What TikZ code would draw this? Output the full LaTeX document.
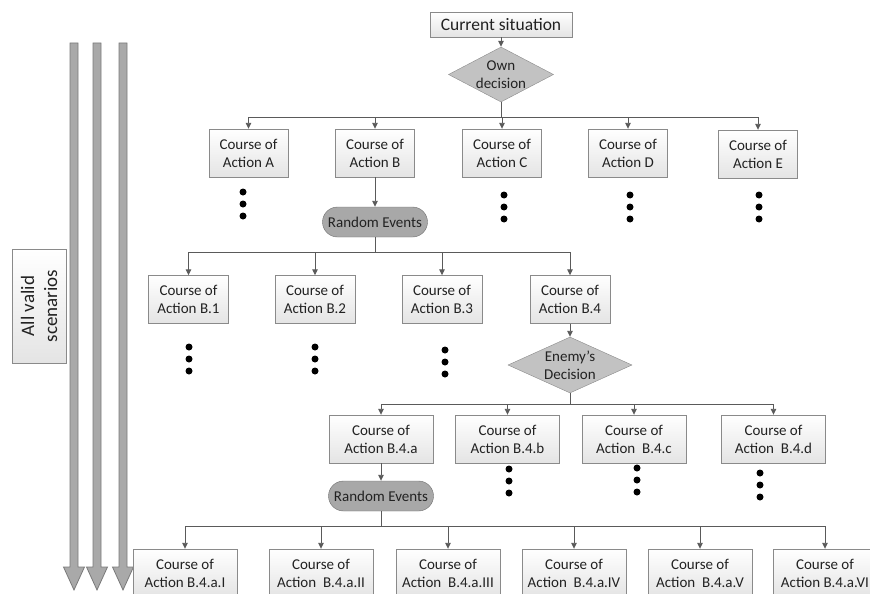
\documentclass[tikz,border=0pt]{standalone}
\usepackage{fontspec}
\setmainfont{Carlito}
\usetikzlibrary{arrows.meta,shapes.geometric}
\definecolor{boxline}{HTML}{8A8A8A}
\definecolor{boxbot}{HTML}{E4E4E4}
\definecolor{wire}{HTML}{5A5A5A}
\definecolor{decfill}{HTML}{C2C2C2}
\definecolor{evfill}{HTML}{A8A8A8}
\definecolor{evline}{HTML}{6E6E6E}
\definecolor{shaftfill}{HTML}{A9A9A9}
\definecolor{shaftline}{HTML}{7A7A7A}
\definecolor{ink}{HTML}{222222}
\newcommand\coafont{\fontsize{15}{18}\selectfont}
\tikzset{
  coa/.style={rectangle, draw=boxline, top color=white, bottom color=boxbot,
    minimum height=48pt, inner sep=0pt, align=center, font=\coafont, text=ink},
  decision/.style={diamond, draw=boxline, fill=decfill, inner xsep=0pt, inner ysep=-6pt,
    aspect=1.9, align=center, font=\coafont, text=ink},
  events/.style={rectangle, rounded corners=15pt, draw=evline, fill=evfill,
    minimum width=105pt, minimum height=30pt, inner sep=0pt, font=\coafont, text=ink},
  wireline/.style={draw=wire, line width=0.9pt},
  feed/.style={wireline, -{Triangle[length=6pt,width=5.5pt]}},
  bigshaft/.style={fill=shaftfill, draw=shaftline, line width=0.8pt, line join=miter},
  dot/.style={fill=black}
}
\begin{document}
\begin{tikzpicture}[x=1pt,y=-1pt]
\useasboundingbox (0,0) rectangle (870,594);
\clip (0,0) rectangle (870,594);

% three downward scenario arrows
\foreach \cx in {74,97,123}{
  \filldraw[bigshaft] (\cx-4,43) -- (\cx+4,43) -- (\cx+4,567) -- (\cx+10.5,567)
    -- (\cx,590) -- (\cx-10.5,567) -- (\cx-4,567) -- cycle;
}
\node[rectangle, draw=boxline, top color=white, bottom color=boxbot, rotate=90,
      minimum width=114pt, minimum height=54pt, inner sep=0pt, align=center,
      font=\fontsize{19}{23}\selectfont, text=ink] (valid) at (39,306) {All valid\\scenarios};

% root and first decision
\node[coa, minimum width=142pt, minimum height=25pt, font=\fontsize{17.5}{20}\selectfont] (cs) at (501,24.5) {Current situation};
\node[decision, minimum width=105pt, minimum height=55pt] (own) at (501,74.5) {Own\\decision};
\draw[feed] (cs.south) -- (own.north);

% level 1
\node[coa, minimum width=79pt] (ca) at (248.5,153) {Course of\\Action A};
\node[coa, minimum width=79pt] (cb) at (375,153) {Course of\\Action B};
\node[coa, minimum width=79pt] (cc) at (502,153) {Course of\\Action C};
\node[coa, minimum width=79pt] (cd) at (628,153) {Course of\\Action D};
\node[coa, minimum width=79pt] (ce) at (758,154) {Course of\\Action E};
\coordinate (bus1) at (501,117);
\draw[wireline] (own.south) -- (bus1);
\foreach \n in {ca,cb,cc,cd,ce}{ \draw[feed] (bus1) -| (\n.north); }

% random events after B
\node[events] (ev1) at (375,222) {Random Events};
\draw[feed] (cb.south) -- (ev1.north);

% level 2
\node[coa, minimum width=80pt] (b1) at (188.5,299.5) {Course of\\Action B.1};
\node[coa, minimum width=80pt] (b2) at (315,299.5) {Course of\\Action B.2};
\node[coa, minimum width=80pt] (b3) at (442,299.5) {Course of\\Action B.3};
\node[coa, minimum width=80pt] (b4) at (570,299.5) {Course of\\Action B.4};
\coordinate (bus2) at (375,252);
\draw[wireline] (ev1.south) -- (bus2);
\foreach \n in {b1,b2,b3,b4}{ \draw[feed] (bus2) -| (\n.north); }

% enemy decision after B.4
\node[decision, minimum width=124pt, minimum height=56pt] (enemy) at (570,365) {Enemy's\\Decision};
\draw[feed] (b4.south) -- (enemy.north);

% level 3
\node[coa, minimum width=104pt] (b4a) at (381,439) {Course of\\Action B.4.a};
\node[coa, minimum width=104pt] (b4b) at (507.5,439) {Course of\\Action B.4.b};
\node[coa, minimum width=104pt] (b4c) at (634,439) {Course of\\Action~~B.4.c};
\node[coa, minimum width=104pt] (b4d) at (773.5,439) {Course of\\Action~~B.4.d};
\coordinate (bus3) at (570,404);
\draw[wireline] (enemy.south) -- (bus3);
\foreach \n in {b4a,b4b,b4c,b4d}{ \draw[feed] (bus3) -| (\n.north); }

% random events after B.4.a
\node[events] (ev2) at (381,496) {Random Events};
\draw[feed] (b4a.south) -- (ev2.north);

% level 4
\node[coa, minimum width=104pt] (r1) at (185,573) {Course of\\Action B.4.a.I};
\node[coa, minimum width=104pt] (r2) at (321,573) {Course of\\Action~~B.4.a.II};
\node[coa, minimum width=104pt] (r3) at (448,573) {Course of\\Action~~B.4.a.III};
\node[coa, minimum width=104pt] (r4) at (574,573) {Course of\\Action~~B.4.a.IV};
\node[coa, minimum width=104pt] (r5) at (700,573) {Course of\\Action~~B.4.a.V};
\node[coa, minimum width=104pt] (r6) at (825,573) {Course of\\Action B.4.a.VI};
\coordinate (bus4) at (381,526);
\draw[wireline] (ev2.south) -- (bus4);
\foreach \n in {r1,r2,r3,r4,r5,r6}{ \draw[feed] (bus4) -| (\n.north); }

% continuation dots
\foreach \x/\y in {243/192, 504/195, 630/195, 759/195,
                   189/347, 315/347, 445/350,
                   509/469, 637/468, 760/473}{
  \foreach \k in {0,1,2}{ \fill[dot] (\x,\y+12*\k) circle (3.5pt); }
}
\end{tikzpicture}
\end{document}
